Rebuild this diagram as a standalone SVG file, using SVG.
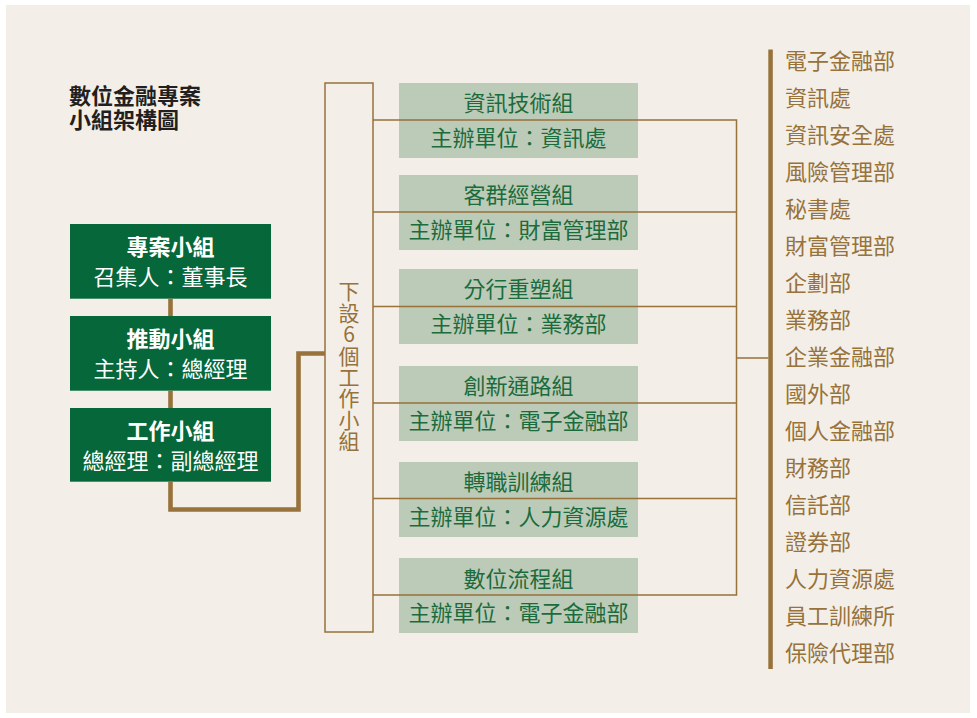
<svg xmlns="http://www.w3.org/2000/svg" width="977" height="718" viewBox="0 0 977 718">
<style>
text{font-family:"Noto Sans CJK TC","Noto Sans CJK SC",sans-serif;font-size:22px}
.title{fill:#231f20;font-weight:bold}
.gbox{fill:#05673a}
.gt{fill:#ffffff;text-anchor:middle}
.gtb{font-weight:bold}
.lbox{fill:#bbcbb8}
.lt{fill:#1c6b3c;text-anchor:middle}
.br{fill:#97723a}
.vt{fill:#97723a;font-size:21px;writing-mode:vertical-rl;text-orientation:upright;letter-spacing:0.4px}
.thin{stroke:#97723a;stroke-width:1.5;fill:none}
.thick{stroke:#97723a;stroke-width:4.6;fill:none}
</style>
<rect x="0" y="0" width="977" height="718" fill="#ffffff"/>
<rect x="6" y="5" width="964" height="708" fill="#f3efe8"/>
<g id="title">
<text class="title" x="69" y="104">數位金融專案<tspan x="69" dy="24">小組架構圖</tspan></text>
</g>
<g id="node-project">
<rect class="gbox" x="70" y="224" width="201" height="74.7"/>
<text class="gt gtb" x="170.5" y="255">專案小組</text>
<text class="gt" x="170.5" y="285">召集人：董事長</text>
</g>
<g id="node-promote">
<rect class="gbox" x="70" y="316" width="201" height="74.7"/>
<text class="gt gtb" x="170.5" y="347">推動小組</text>
<text class="gt" x="170.5" y="377">主持人：總經理</text>
</g>
<g id="node-work">
<rect class="gbox" x="70" y="408" width="201" height="73.7"/>
<text class="gt gtb" x="170.5" y="439">工作小組</text>
<text class="gt" x="170.5" y="469">總經理：副總經理</text>
</g>
<g id="node-six">
<rect class="thin" x="325" y="83" width="48" height="549"/>
<text class="vt" x="349" y="281">下設6個工作小組</text>
</g>
<g id="node-g1">
<rect class="lbox" x="399" y="83" width="239" height="75"/>
<text class="lt" x="518.5" y="111">資訊技術組</text>
<text class="lt" x="518.5" y="146">主辦單位：資訊處</text>
</g>
<g id="node-g2">
<rect class="lbox" x="399" y="175" width="239" height="75"/>
<text class="lt" x="518.5" y="203">客群經營組</text>
<text class="lt" x="518.5" y="238">主辦單位：財富管理部</text>
</g>
<g id="node-g3">
<rect class="lbox" x="399" y="269" width="239" height="75"/>
<text class="lt" x="518.5" y="297">分行重塑組</text>
<text class="lt" x="518.5" y="332">主辦單位：業務部</text>
</g>
<g id="node-g4">
<rect class="lbox" x="399" y="366" width="239" height="75"/>
<text class="lt" x="518.5" y="394">創新通路組</text>
<text class="lt" x="518.5" y="429">主辦單位：電子金融部</text>
</g>
<g id="node-g5">
<rect class="lbox" x="399" y="462" width="239" height="75"/>
<text class="lt" x="518.5" y="490">轉職訓練組</text>
<text class="lt" x="518.5" y="525">主辦單位：人力資源處</text>
</g>
<g id="node-g6">
<rect class="lbox" x="399" y="558" width="239" height="75"/>
<text class="lt" x="518.5" y="587">數位流程組</text>
<text class="lt" x="518.5" y="621">主辦單位：電子金融部</text>
</g>
<g id="node-units">
<rect class="br" x="768.3" y="49.5" width="4.5" height="619.5"/>
<text class="br" x="785" y="69">電子金融部</text>
<text class="br" x="785" y="106">資訊處</text>
<text class="br" x="785" y="143">資訊安全處</text>
<text class="br" x="785" y="180">風險管理部</text>
<text class="br" x="785" y="217">秘書處</text>
<text class="br" x="785" y="254">財富管理部</text>
<text class="br" x="785" y="291">企劃部</text>
<text class="br" x="785" y="328">業務部</text>
<text class="br" x="785" y="365">企業金融部</text>
<text class="br" x="785" y="402">國外部</text>
<text class="br" x="785" y="439">個人金融部</text>
<text class="br" x="785" y="476">財務部</text>
<text class="br" x="785" y="513">信託部</text>
<text class="br" x="785" y="550">證券部</text>
<text class="br" x="785" y="587">人力資源處</text>
<text class="br" x="785" y="624">員工訓練所</text>
<text class="br" x="785" y="661">保險代理部</text>
</g>
<g id="connectors">
<path class="thick" d="M170.5 298.7 V316 M170.5 390.7 V408 M170.5 481.7 V509.5 H298.5 V353.5 H325"/>
<path class="thin" d="M373 120 H737 M373 212 H737 M373 306.5 H737 M373 403 H737 M373 498.5 H737 M373 595 H737 M736.5 119.3 V595.7 M737 358 H768.3"/>
</g>
</svg>
